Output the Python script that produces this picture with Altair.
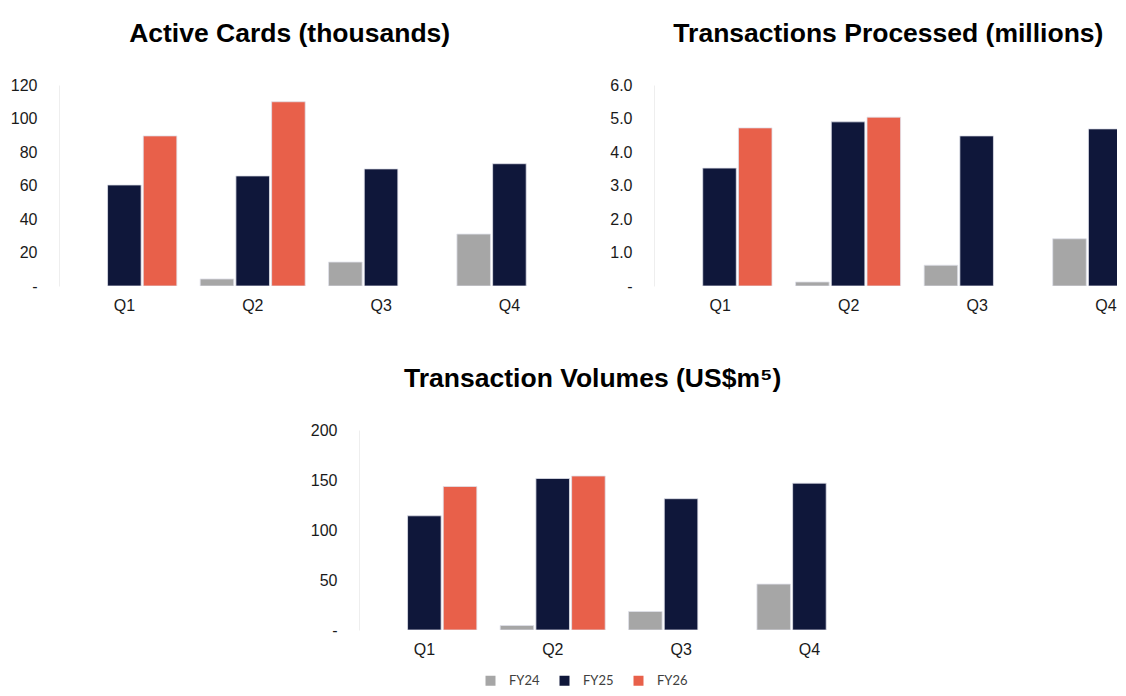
import altair as alt
import pandas as pd

quarters = ["Q1", "Q2", "Q3", "Q4"]
years = ["FY24", "FY25", "FY26"]
colors = ["#A6A6A6", "#0F173A", "#E8604A"]

# Active Cards (thousands)
cards_fy24 = [None, 4.2, 14.3, 31.0]
cards_fy25 = [60.3, 65.7, 69.9, 73.0]
cards_fy26 = [89.6, 110.0, None, None]

# Transactions Processed (millions)
tx_fy24 = [None, 0.12, 0.62, 1.41]
tx_fy25 = [3.52, 4.90, 4.48, 4.69]
tx_fy26 = [4.72, 5.04, None, None]

# Transaction Volumes (US$m)
vol_fy24 = [None, 4.5, 18.5, 45.9]
vol_fy25 = [114.2, 151.5, 131.3, 146.8]
vol_fy26 = [143.5, 154.0, None, None]

FONT = "Liberation Sans"


def build_df(s24, s25, s26):
    rows = []
    for yr, series in zip(years, [s24, s25, s26]):
        for q, v in zip(quarters, series):
            if v is not None:
                rows.append({"quarter": q, "year": yr, "value": v})
    return pd.DataFrame(rows)


def make_chart(df, title, ymax, ystep, fmt, width, height,
               pad_inner=0.18, pad_outer=0.1, axis_offset=0,
               offset_range=None, label_offset=0, title_dx=0):
    tick_vals = [i * ystep for i in range(int(round(ymax / ystep)) + 1)]
    label_expr = "datum.value == 0 ? '-\u2007' : format(datum.value, '%s')" % fmt
    off_kw = dict(domain=years, paddingInner=0.06, paddingOuter=0)
    if offset_range is not None:
        off_kw["range"] = offset_range
    return (
        alt.Chart(df)
        .mark_bar(stroke="#dfe1ea", strokeWidth=0.8, clip=True)
        .encode(
            x=alt.X(
                "quarter:N",
                sort=quarters,
                scale=alt.Scale(domain=quarters, paddingInner=pad_inner,
                                paddingOuter=pad_outer),
                axis=alt.Axis(
                    title=None, labelAngle=0, domain=False, ticks=False,
                    labelPadding=11, labelFontSize=16, labelFont=FONT,
                    labelColor="#1a1a1a", labelOffset=label_offset,
                ),
            ),
            xOffset=alt.XOffset("year:N", scale=alt.Scale(**off_kw)),
            y=alt.Y(
                "value:Q",
                scale=alt.Scale(domain=[0, ymax], nice=False),
                axis=alt.Axis(
                    title=None, values=tick_vals, labelExpr=label_expr,
                    grid=False, ticks=False, domain=True, domainColor="#eeeeee",
                    labelPadding=22, labelFontSize=16, labelFont=FONT,
                    labelColor="#1a1a1a", offset=axis_offset,
                ),
            ),
            color=alt.Color(
                "year:N",
                scale=alt.Scale(domain=years, range=colors),
                legend=alt.Legend(
                    title=None, orient="none", direction="horizontal",
                    legendX=425, legendY=589, symbolType="square",
                    symbolSize=100, symbolStrokeWidth=0, labelFont="Lato",
                    labelFontSize=13, labelColor="#404040", labelOffset=12,
                    columnPadding=18, padding=0,
                ),
            ),
        )
        .properties(
            width=width,
            height=height,
            title=alt.TitleParams(
                text=title, frame="bounds", anchor="middle", fontSize=26.5,
                font=FONT, fontWeight="bold", color="#000000", offset=30,
                dx=title_dx,
            ),
        )
    )


c1 = make_chart(build_df(cards_fy24, cards_fy25, cards_fy26),
                "Active Cards (thousands)", 120, 20, ".0f", 516, 201,
                title_dx=-3)
c2 = make_chart(build_df(tx_fy24, tx_fy25, tx_fy26),
                "Transactions Processed (millions)", 6, 1, ".1f", 450, 201,
                pad_inner=0.5, pad_outer=0, axis_offset=13,
                offset_range=[0, 105], label_offset=21, title_dx=25)
c3 = make_chart(build_df(vol_fy24, vol_fy25, vol_fy26),
                "Transaction Volumes (US$m\u2075)", 200, 50, ".0f", 516, 200)

spacer = (
    alt.Chart(pd.DataFrame({"v": [0]}))
    .mark_point(opacity=0)
    .encode(x=alt.value(0), y=alt.value(0))
    .properties(width=231, height=10)
)

top = alt.hconcat(c1, c2, spacing=34)
bottom = alt.hconcat(spacer, c3, spacing=20)

chart = (
    alt.vconcat(top, bottom, spacing=52)
    .properties(padding={"left": 2, "top": 12, "right": 0, "bottom": 0})
    .configure_view(stroke=None)
)

chart.save("out.html", embed_options={"renderer": "svg", "actions": False})
